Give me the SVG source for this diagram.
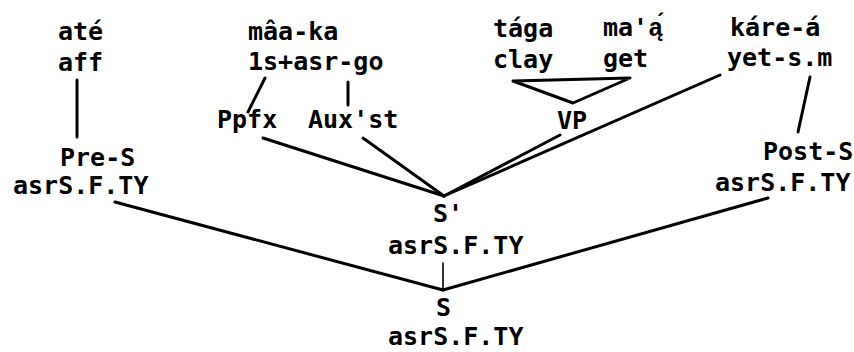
<svg xmlns="http://www.w3.org/2000/svg" width="854" height="352" viewBox="0 0 854 352">
<style>
text{font-family:"DejaVu Sans Mono","Liberation Mono",monospace;font-size:25px;font-weight:bold;fill:#000}
.lm{font-family:"Liberation Mono","DejaVu Sans Mono",monospace}
.c line,.c polygon{stroke:#000;stroke-width:3;fill:none;stroke-linecap:round;stroke-linejoin:round}
.c .thin{stroke-width:1.6}
</style>
<rect width="854" height="352" fill="#fff"/>
<g id="ate"><text x="58" y="40">até</text><text x="58" y="71">aff</text></g>
<g id="maaka"><text x="248" y="40">mâa-ka</text><text x="248" y="70">1s+asr-go</text></g>
<g id="taga"><text x="493" y="37">tága</text><text x="493" y="68">clay</text></g>
<g id="maa"><text x="603" y="36">ma'<tspan class="lm">ą́</tspan></text><text x="603" y="67">get</text></g>
<g id="karea"><text x="730" y="36">káre-á</text><text x="727" y="66">yet-s.m</text></g>
<g id="ppfx"><text x="217" y="128">Ppfx</text></g>
<g id="auxst"><text x="308" y="128">Aux'st</text></g>
<g id="vp"><text x="557" y="129">VP</text></g>
<g id="pres"><text x="60" y="166">Pre-S</text><text x="13" y="194">asrS.F.TY</text></g>
<g id="posts"><text x="763" y="160">Post-S</text><text x="715" y="191">asrS.F.TY</text></g>
<g id="sprime"><text x="433" y="222">S'</text><text x="388" y="254">asrS.F.TY</text></g>
<g id="s"><text x="436" y="316">S</text><text x="388" y="345">asrS.F.TY</text></g>
<g id="connectors" class="c">
<line x1="77" y1="80" x2="77" y2="137"/>
<line x1="265" y1="78" x2="248" y2="112"/>
<line x1="348" y1="82" x2="348" y2="105"/>
<line x1="263" y1="138" x2="444" y2="196"/>
<line x1="363" y1="138" x2="444" y2="196"/>
<line x1="560" y1="135" x2="444" y2="196"/>
<line x1="720" y1="75" x2="444" y2="196"/>
<polygon points="513,81 630,78 573,103"/>
<line x1="810" y1="77" x2="798" y2="132"/>
<line x1="115" y1="202" x2="443" y2="290"/>
<line x1="768" y1="198" x2="443" y2="290"/>
<line class="thin" x1="443" y1="263" x2="443" y2="290"/>
</g>
</svg>
